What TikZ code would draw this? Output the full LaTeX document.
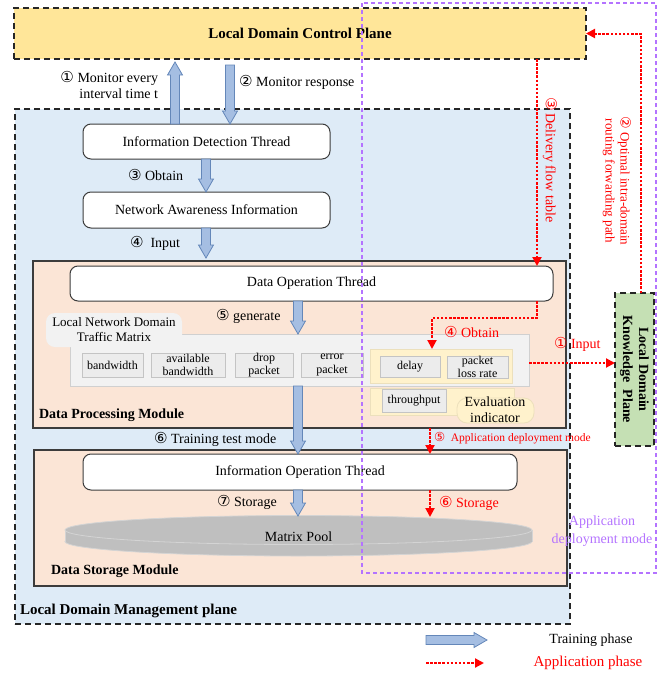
\documentclass[tikz,border=0pt]{standalone}
\usepackage{fontspec}
\setmainfont{Liberation Serif}
\newfontfamily\cfont[Scale=1.08]{DejaVu Sans}
\usetikzlibrary{calc,arrows.meta}
\definecolor{mpfill}{RGB}{222,235,247}
\definecolor{cpfill}{RGB}{255,230,153}
\definecolor{modfill}{RGB}{251,229,214}
\definecolor{kpfill}{RGB}{197,224,180}
\definecolor{grayfill}{RGB}{242,242,242}
\definecolor{grayline}{RGB}{208,208,208}
\definecolor{cellfill}{RGB}{236,236,236}
\definecolor{cellline}{RGB}{196,196,196}
\definecolor{yelfill}{RGB}{255,242,204}
\definecolor{yelline}{RGB}{236,224,188}
\definecolor{arrfill}{RGB}{165,190,226}
\definecolor{arrline}{RGB}{100,135,185}
\definecolor{purp}{RGB}{180,115,255}
\definecolor{poolc}{RGB}{191,191,191}
\definecolor{pooledge}{RGB}{212,212,212}
\definecolor{darkline}{RGB}{60,60,60}
\newcommand\cn[1]{{\cfont #1}}
\newcommand\fatarrow[2]{%
  \coordinate (fas) at (#1);
  \coordinate (fat) at (#2);
  \coordinate (fah) at ($(fat)!13pt!(fas)$);
  \draw[fatarrowstyle] ($(fas)!4.5pt!90:(fat)$) -- ($(fah)!4.5pt!-90:(fas)$) -- ($(fah)!7.5pt!-90:(fas)$) -- (fat) -- ($(fah)!7.5pt!90:(fas)$) -- ($(fah)!4.5pt!90:(fas)$) -- ($(fas)!4.5pt!-90:(fat)$) -- cycle;}
\begin{document}
\begin{tikzpicture}[x=1pt,y=-1pt,
  every node/.style={inner sep=0pt,outer sep=0pt},
  f14/.style={font=\fontsize{14}{16}\selectfont},
  f13/.style={font=\fontsize{13}{15}\selectfont},
  f12/.style={font=\fontsize{12}{13.5}\selectfont},
  bf14/.style={font=\fontsize{14}{16}\selectfont\bfseries},
  bf15/.style={font=\fontsize{15}{17}\selectfont\bfseries},
  planebox/.style={draw=black!85,line width=1.4pt,dash pattern=on 6pt off 4pt,anchor=north west},
  modbox/.style={draw=darkline,line width=1.3pt,fill=modfill,anchor=north west},
  thread/.style={draw=darkline,line width=1pt,fill=white,rounded corners=8pt,anchor=north west,f14},
  cell/.style={draw=cellline,line width=0.8pt,fill=cellfill,anchor=north west,align=center,f12},
  yelbox/.style={draw=yelline,line width=0.8pt,fill=yelfill,anchor=north west},
  fatarrowstyle/.style={fill=arrfill,draw=arrline,line width=0.8pt,line join=miter},
  redarrow/.style={draw=red,line width=2pt,dash pattern=on 2.5pt off 1.6pt,-{Triangle[length=9pt,width=9pt]}},
  lbl/.style={anchor=west,f14},
  redlbl/.style={anchor=west,f14,text=red}
]
\useasboundingbox (0,0) rectangle (666,675);
% column coordinates
\coordinate (colA) at (175,0);
\coordinate (colB) at (230,0);
\coordinate (colC) at (206,0);
\coordinate (colD) at (298,0);
\coordinate (colR1) at (537,0);
\coordinate (colR3) at (430,0);
\coordinate (r4a) at (432,318);
\coordinate (rowIn) at (0,363);
\coordinate (pooltop) at (298,516);
\coordinate (r6end) at (430,517);

% planes
\node[planebox,fill=mpfill,minimum width=555,minimum height=515] (mp) at (15,109) {};
\node[planebox,fill=cpfill,minimum width=572,minimum height=51,bf15] (cp) at (14,8) {};
\node[bf15] (cptext) at (cp.center) {Local Domain Control Plane};

% data processing module
\node[modbox,minimum width=533,minimum height=167] (dpm) at (33,261) {};
\node[thread,minimum width=247,minimum height=35] (idt) at (83,124) {Information Detection Thread};
\node[thread,minimum width=247,minimum height=36] (nai) at (83,192) {Network Awareness Information};
\node[thread,minimum width=483,minimum height=35] (dot) at (70,266) {Data Operation Thread};
\node[draw=grayline,line width=0.9pt,fill=grayfill,anchor=north west,minimum width=459,minimum height=52] (tm) at (70,334) {};
\node[fill=grayfill,rounded corners=9pt,anchor=north west,minimum width=136,minimum height=34] (tab) at (46,313) {};
\node[f13,align=center] (tabtext) at (114,330) {Local Network Domain\\Traffic Matrix};
\node[cell,minimum width=61,minimum height=24] (bw) at (82,353) {bandwidth};
\node[cell,minimum width=74,minimum height=24] (abw) at (151,353) {available\\bandwidth};
\node[cell,minimum width=58,minimum height=24] (dp) at (235,353) {drop\\packet};
\node[cell,minimum width=62,minimum height=24] (ep) at (301,353) {error\\packet};
\node[yelbox,minimum width=142,minimum height=34] (ev1) at (370,349) {};
\node[cell,minimum width=60,minimum height=21] (delay) at (380,356) {delay};
\node[cell,minimum width=61,minimum height=21] (plr) at (447,356) {packet\\loss rate};
\node[yelbox,minimum width=144,minimum height=27] (ev2) at (370,388) {};
\node[cell,minimum width=64,minimum height=23] (thr) at (382,389) {throughput};
\node[draw=yelline,line width=0.8pt,fill=yelfill,rounded corners=10pt,anchor=north west,minimum width=77,minimum height=25] (evi) at (457,398) {};
\node[f14,align=center] (evitext) at (495,410) {Evaluation\\indicator};
\node[bf14,anchor=west] (dpmlbl) at (39,415) {Data Processing Module};

% data storage module
\node[modbox,minimum width=533,minimum height=136] (dsm) at (34,450) {};
\node[thread,minimum width=434,minimum height=36] (iot) at (83,454) {Information Operation Thread};
\fill[poolc,draw=pooledge,line width=0.8pt] (298.5,541.5) ellipse [x radius=233.5pt, y radius=14.5pt];
\fill[poolc] (65,530) rectangle (532,541.5);
\draw[pooledge,line width=0.8pt] (65,530) -- (65,541.5) (532,530) -- (532,541.5);
\fill[poolc,draw=pooledge,line width=0.8pt] (298.5,530) ellipse [x radius=233.5pt, y radius=14.5pt];
\node[f14] (pool) at (298.5,537) {Matrix Pool};
\node[bf14,anchor=west] (dsmlbl) at (51,571) {Data Storage Module};
\node[bf15,anchor=west] (mplbl) at (20,611) {Local Domain Management plane};

% knowledge plane
\node[planebox,fill=kpfill,minimum width=39,minimum height=153] (kp) at (615,293) {};
\node[bf14,rotate=-90,align=center] (kptext) at (kp.center) {Local Domain\\Knowledge\ \ Plane};

% blue arrows
\fatarrow{idt.north -| colA}{$(cp.south -| colA)+(0,3)$}
\fatarrow{$(cp.south -| colB)+(0,6)$}{idt.north -| colB}
\fatarrow{idt.south -| colC}{nai.north -| colC}
\fatarrow{nai.south -| colC}{$(dpm.north -| colC)+(0,-3)$}
\fatarrow{dot.south -| colD}{tm.north -| colD}
\fatarrow{tm.south -| colD}{iot.north -| colD}
\fatarrow{iot.south -| colD}{pooltop}

% black labels
\node[f14,align=right,anchor=east] (l1) at (158,85) {\cn{①} Monitor every\\interval time t};
\node[lbl] (l2) at (239,82) {\cn{②} Monitor response};
\node[lbl] (l3) at (128,175) {\cn{③} Obtain};
\node[lbl] (l4) at (130,243) {\cn{④}\ \ Input};
\node[lbl] (l5) at (216,316) {\cn{⑤} generate};
\node[lbl] (l6) at (154,439) {\cn{⑥} Training test mode};
\node[lbl] (l7) at (217,502) {\cn{⑦} Storage};

% red arrows
\draw[redarrow] (cp.south -| colR1) -- (dot.north -| colR1);
\draw[redarrow] ([xshift=6pt]kp.north) |- (cp.east);
\draw[redarrow] (dot.south -| colR1) |- (r4a) -- (ev1.north -| r4a);
\draw[redarrow] (tm.east |- rowIn) -- (kp.west |- rowIn);
\draw[redarrow] (dpm.south -| colR3) -- (iot.north -| colR3);
\draw[redarrow] (iot.south -| colR3) -- (r6end);

% red labels
\node[f14,text=red,rotate=-90] (rl3) at (550,160) {\cn{③}\,Delivery flow table};
\node[f13,text=red,rotate=-90,align=center] (rl2) at (617,181) {\cn{②} Optimal intra-domain\\routing forwarding path};
\node[redlbl] (rl4) at (444,332) {\cn{④} Obtain};
\node[redlbl] (rl1) at (554,344) {\cn{①} Input};
\node[anchor=west,font=\fontsize{11.5}{13}\selectfont,text=red] (rl5) at (434,438) {\cn{⑤}\ \ Application deployment mode};
\node[redlbl] (rl6) at (439,503) {\cn{⑥} Storage};

% purple application deployment region
\draw[purp,line width=1.2pt,dash pattern=on 4pt off 3pt] (362,3) rectangle (656,573);
\node[font=\fontsize{14}{18}\selectfont,text=purp,align=center] (purlbl) at (602,531) {Application\\deployment mode};

% legend
\coordinate (lgA) at (426,640);
\coordinate (lgB) at (487,640);
\coordinate (lgC) at (426,663);
\coordinate (lgD) at (484,663);
\fatarrow{lgA}{lgB}
\node[f14] (lgt1) at (591,640) {Training phase};
\draw[redarrow] (lgC) -- (lgD);
\node[font=\fontsize{15}{17}\selectfont,text=red] (lgt2) at (588,663) {Application phase};
\end{tikzpicture}
\end{document}
